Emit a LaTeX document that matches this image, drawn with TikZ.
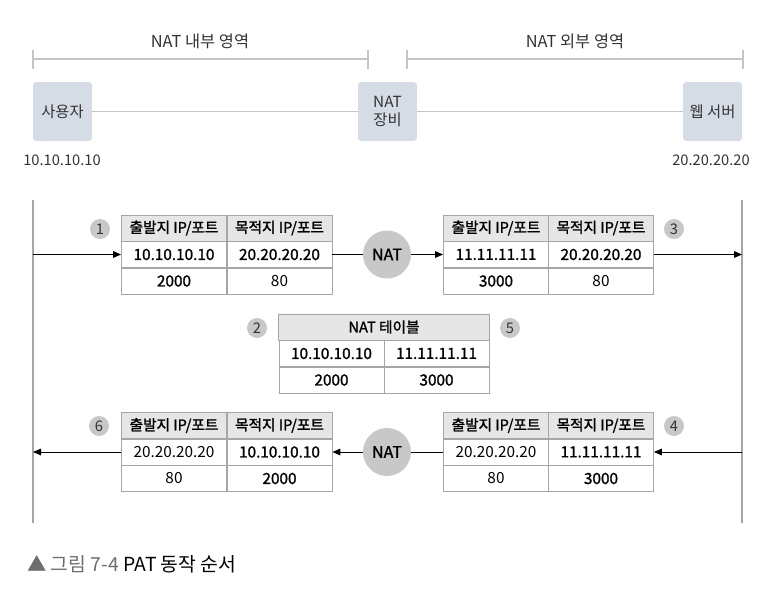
\documentclass[tikz,border=0pt]{standalone}
\usepackage{fontspec}
\setmainfont{Noto Sans CJK KR}
\newfontfamily\medkr{Noto Sans CJK KR}[FakeBold=1.4]
\usetikzlibrary{arrows.meta}

\definecolor{boxfill}{HTML}{D6DCE6}
\definecolor{linegray}{HTML}{C4C4C4}
\definecolor{tblline}{HTML}{A6A6A6}
\definecolor{hdrfill}{HTML}{E6E6E6}
\definecolor{dotfill}{HTML}{C8C8C8}
\definecolor{txtgray}{HTML}{333333}
\definecolor{capgray}{HTML}{6E6E6E}

\begin{document}
\begin{tikzpicture}[
      x=0.75pt, y=-0.75pt,
      host/.style ={fill=boxfill, rounded corners=2pt, minimum size=44pt,
                    inner sep=1pt, align=center, text=txtgray,
                    font=\fontsize{11.5pt}{14pt}\selectfont},
      cell/.style ={draw=tblline, minimum width=79pt, minimum height=19.8pt,
                    inner sep=0pt, font=\fontsize{11.5pt}{13pt}\selectfont},
      head/.style ={cell, fill=hdrfill, font=\fontsize{11pt}{13pt}\medkr},
      hot/.style  ={font=\fontsize{11.5pt}{13pt}\medkr},
      numdot/.style={circle, fill=dotfill, minimum size=15pt, inner sep=0pt,
                    text=txtgray, font=\fontsize{11pt}{12pt}\selectfont},
      natdot/.style={circle, fill=dotfill, minimum size=36pt, inner sep=0pt,
                    font=\fontsize{12pt}{14pt}\medkr},
      zone/.style ={draw=linegray, line width=1pt},
      flow/.style ={line width=0.7pt, -{Triangle[length=6pt,width=5pt]}},
      link/.style ={line width=0.7pt}]
    \useasboundingbox (0,0) rectangle (776,608);

    % zones
    \draw[zone] (33,50) -- (33,69) (33,59) -- (368,59) (368,50) -- (368,69);
    \draw[zone] (407,50) -- (407,69) (407,59) -- (743,59) (743,50) -- (743,69);
    \node[text=txtgray, font=\fontsize{12.3pt}{14pt}\selectfont] (inzone) at (200,41) {NAT 내부 영역};
    \node[text=txtgray, font=\fontsize{12.3pt}{14pt}\selectfont] (outzone) at (575,41) {NAT 외부 영역};

    % hosts
    \node[host] (user) at (62.5,111.5) {사용자};
    \node[host] (natbox) at (387.5,111.5) {NAT\\장비};
    \node[host] (web) at (712.5,111.5) {웹 서버};
    \draw[linegray, line width=0.8pt] (user) -- (natbox) -- (web);
    \node[text=txtgray, font=\fontsize{11pt}{13pt}\selectfont] (userip) at (62,160) {10.10.10.10};
    \node[text=txtgray, font=\fontsize{11pt}{13pt}\selectfont] (webip) at (711,160) {20.20.20.20};

    % time lines
    \coordinate (Ltop) at (33,200);
    \coordinate (Lbot) at (33,523);
    \coordinate (Rtop) at (742,200);
    \coordinate (Rbot) at (742,523);
    \coordinate (L1) at (33,254.5);
    \coordinate (R1) at (742,254.5);
    \coordinate (L2) at (33,452);
    \coordinate (R2) at (742,452);
    \draw[tblline, line width=0.8pt] (Ltop) -- (Lbot) (Rtop) -- (Rbot);

    % packet 1
    \node[head] (t1h1) at (174,228) {출발지 IP/포트};
    \node[head] (t1h2) at (279.5,228) {목적지 IP/포트};
    \node[cell,hot] (t1a) at (174,254.5) {10.10.10.10};
    \node[cell,hot] (t1b) at (279.5,254.5) {20.20.20.20};
    \node[cell,hot] (t1c) at (174,281) {2000};
    \node[cell] (t1d) at (279.5,281) {80};

    % packet 3
    \node[head] (t2h1) at (496,228) {출발지 IP/포트};
    \node[head] (t2h2) at (601,228) {목적지 IP/포트};
    \node[cell,hot] (t2a) at (496,254.5) {11.11.11.11};
    \node[cell,hot] (t2b) at (601,254.5) {20.20.20.20};
    \node[cell,hot] (t2c) at (496,281) {3000};
    \node[cell] (t2d) at (601,281) {80};

    % NAT table
    \node[head, minimum width=158pt] (ntab) at (384,327) {NAT 테이블};
    \node[cell,hot] (ntaba) at (331.5,353.5) {10.10.10.10};
    \node[cell,hot] (ntabb) at (436.5,353.5) {11.11.11.11};
    \node[cell,hot] (ntabc) at (331.5,380) {2000};
    \node[cell,hot] (ntabd) at (436.5,380) {3000};

    % packet 6
    \node[head] (t6h1) at (174,425.5) {출발지 IP/포트};
    \node[head] (t6h2) at (279.5,425.5) {목적지 IP/포트};
    \node[cell] (t6a) at (174,452) {20.20.20.20};
    \node[cell,hot] (t6b) at (279.5,452) {10.10.10.10};
    \node[cell] (t6c) at (174,478.5) {80};
    \node[cell,hot] (t6d) at (279.5,478.5) {2000};

    % packet 4
    \node[head] (t4h1) at (496,425.5) {출발지 IP/포트};
    \node[head] (t4h2) at (601,425.5) {목적지 IP/포트};
    \node[cell] (t4a) at (496,452) {20.20.20.20};
    \node[cell,hot] (t4b) at (601,452) {11.11.11.11};
    \node[cell] (t4c) at (496,478.5) {80};
    \node[cell,hot] (t4d) at (601,478.5) {3000};

    % NAT devices
    \node[natdot] (nat1) at (387,254.5) {NAT};
    \node[natdot] (nat2) at (387,452) {NAT};

    % steps
    \node[numdot] (s1) at (100,229) {1};
    \node[numdot] (s2) at (257,328) {2};
    \node[numdot] (s3) at (674,229) {3};
    \node[numdot] (s4) at (674,426) {4};
    \node[numdot] (s5) at (510,328) {5};
    \node[numdot] (s6) at (99,426) {6};

    % request
    \draw[flow] (L1) -- (t1a.west);
    \draw[link] (t1b.east) -- (nat1);
    \draw[flow] (nat1) -- (t2a.west);
    \draw[flow] (t2b.east) -- (R1);
    % reply
    \draw[flow] (R2) -- (t4b.east);
    \draw[link] (t4a.west) -- (nat2);
    \draw[flow] (nat2) -- (t6b.east);
    \draw[flow] (t6a.west) -- (L2);

    % caption
    \node[anchor=west, inner sep=0pt, font=\fontsize{14.5pt}{16pt}\selectfont] (caption) at (27,564)
      {\textcolor{capgray}{▲ 그림 7-4} PAT 동작 순서};
\end{tikzpicture}
\end{document}
